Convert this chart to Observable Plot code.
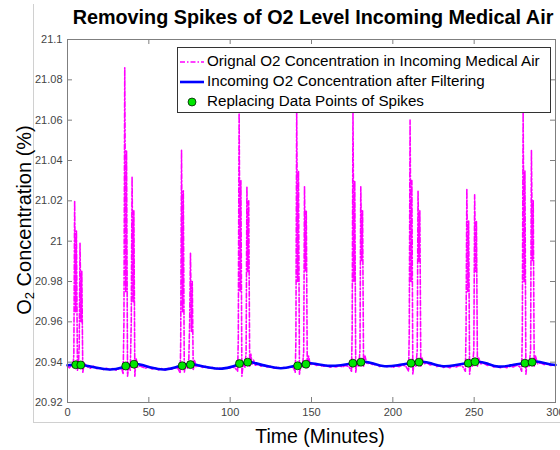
<!DOCTYPE html>
<html>
<head>
<meta charset="utf-8">
<script src="https://cdn.jsdelivr.net/npm/d3@7"></script>
<script src="https://cdn.jsdelivr.net/npm/@observablehq/plot@0.6"></script>
<style>
  html, body { margin: 0; padding: 0; background: #fff; }
  #wrap { position: relative; width: 560px; height: 450px; font-family: "Liberation Sans", Arial, sans-serif; overflow: hidden; }
  #figborder { position: absolute; left: 33px; top: 4px; width: 540px; height: 418px; border-left: 1px solid #d0d0d0; border-bottom: 1px solid #d0d0d0; }
  #title { position: absolute; left: 66px; width: 494px; top: 6px; text-align: center; font-weight: bold; font-size: 19.8px; color: #000; white-space: nowrap; }
  #xlabel { position: absolute; left: 75px; width: 490px; top: 425px; text-align: center; font-size: 19.5px; color: #000; }
  #ylabel { position: absolute; left: 24px; top: 220px; transform: translate(-50%, -50%) rotate(-90deg); font-size: 20px; color: #000; white-space: nowrap; }
  #ylabel sub { font-size: 13px; vertical-align: -3px; line-height: 0; }
  #chart { position: absolute; left: 0; top: 0; }
  #legend { position: absolute; left: 177px; top: 47px; width: 374px; height: 66px; border: 1px solid #333; background: #fff; box-sizing: border-box; }
  .lg { position: absolute; left: 0; height: 20px; width: 100%; font-size: 15.2px; color: #000; white-space: nowrap; }
  .lg svg { position: absolute; left: 2px; top: 0; }
  .lg span { position: absolute; left: 29px; top: 1px; }
</style>
</head>
<body>
<div id="wrap">
  <div id="figborder"></div>
  <div id="chart"></div>
  <div id="title">Removing Spikes of O2 Level Incoming Medical Air</div>
  <div id="xlabel">Time (Minutes)</div>
  <div id="ylabel">O<sub>2</sub> Concentration (%)</div>
  <div id="legend"></div>
</div>
<script>
// ---- data ----
const xTicks = [0, 50, 100, 150, 200, 250, 300];
const xTickLabels = ["0", "50", "100", "150", "200", "250", "300"];
const yTicks = [20.92, 20.94, 20.96, 20.98, 21.0, 21.02, 21.04, 21.06, 21.08, 21.1];
const yTickLabels = ["20.92", "20.94", "20.96", "20.98", "21", "21.02", "21.04", "21.06", "21.08", "21.1"];

const legendLabels = [
  "Orignal O2 Concentration in Incoming Medical Air",
  "Incoming O2 Concentration after Filtering",
  "Replacing Data Points of Spikes"
];

// original O2 concentration (time in minutes, value in %)
const originalO2 = [
  [0,20.9380],[1.2,20.9372],[2.4,20.9385],
  [3.4,20.9378],[3.9,20.9440],[4.4,21.0200],[5.0,20.9650],[5.5,21.0050],[6.1,20.9360],[6.7,20.9385],[7.2,20.9480],[7.7,20.9990],[8.3,20.9600],[8.8,20.9850],[9.4,20.9350],[10.3,20.9395],
  [12,20.9378],[14,20.9370],[16,20.9380],[18,20.9368],[20,20.9372],[22,20.9363],[24,20.9370],[26,20.9362],[28,20.9368],[30,20.9360],[32,20.9370],[33.5,20.9365],
  [34.2,20.9340],[34.7,20.9600],[35.2,21.0860],[35.8,20.9750],[36.3,21.0450],[36.9,20.9330],[37.6,20.9380],[38.6,20.9360],[39.2,20.9600],[39.7,21.0320],[40.3,20.9700],[40.8,21.0150],[41.4,20.9330],[42.2,20.9420],[43,20.9375],
  [44.5,20.9382],[46,20.9376],[48,20.9370],[50,20.9378],[52,20.9366],[54,20.9372],[56,20.9362],[58,20.9368],[60,20.9360],[62,20.9370],[64,20.9365],[66,20.9372],[68,20.9368],
  [69.3,20.9345],[69.6,20.9500],[70.1,21.0450],[70.7,20.9650],[71.2,21.0250],[71.8,20.9350],[72.6,20.9390],[73.8,20.9370],[74.6,20.9420],[75.1,20.9600],[75.6,20.9940],[76.2,20.9550],[76.7,20.9800],[77.3,20.9360],[78.1,20.9410],[79,20.9378],
  [81,20.9384],[83,20.9374],[85,20.9380],[87,20.9368],[89,20.9374],[91,20.9365],[93,20.9372],[95,20.9366],[97,20.9374],[99,20.9368],[101,20.9376],[103,20.9372],
  [104.6,20.9355],[105.0,20.9520],[105.5,21.0660],[106.1,20.9750],[106.6,21.0300],[107.2,20.9330],[108.0,20.9395],[109.1,20.9375],[109.8,20.9450],[110.3,21.0270],[110.9,20.9850],[111.4,21.0200],[112.0,20.9380],[112.7,20.9440],[113.5,20.9390],[114.4,20.9410],[115.5,20.9385],
  [117,20.9390],[119,20.9380],[121,20.9386],[123,20.9374],[125,20.9380],[127,20.9370],[129,20.9376],[131,20.9368],[133,20.9374],[135,20.9370],[137,20.9378],[139,20.9372],
  [140.0,20.9350],[140.4,20.9500],[140.9,21.0660],[141.5,20.9800],[142.0,21.0350],[142.6,20.9340],[143.3,20.9390],[144.4,20.9375],[145.2,20.9450],[145.7,21.0270],[146.3,20.9850],[146.8,21.0150],[147.4,20.9370],[148.2,20.9430],[149.2,20.9388],
  [151,20.9392],[153,20.9384],[155,20.9388],[157,20.9378],[159,20.9384],[161,20.9374],[163,20.9380],[165,20.9376],[167,20.9382],[169,20.9376],[171,20.9384],[173,20.9378],
  [174.6,20.9355],[175.0,20.9550],[175.5,21.0650],[176.1,20.9800],[176.6,21.0300],[177.2,20.9350],[178.0,20.9395],[179.1,20.9380],[179.8,20.9460],[180.3,21.0270],[180.9,20.9900],[181.4,21.0150],[182.0,20.9380],[182.9,20.9430],[184,20.9392],
  [186,20.9396],[188,20.9386],[190,20.9390],[192,20.9378],[194,20.9384],[196,20.9376],[198,20.9382],[200,20.9374],[202,20.9382],[204,20.9378],[206,20.9386],[208,20.9380],
  [209.7,20.9355],[210.1,20.9550],[210.6,21.0600],[211.2,20.9800],[211.7,21.0300],[212.3,20.9340],[213.0,20.9395],[214.2,20.9380],[215.0,20.9460],[215.5,21.0250],[216.1,20.9900],[216.6,21.0150],[217.2,20.9380],[218.0,20.9420],[219,20.9392],
  [221,20.9396],[223,20.9386],[225,20.9390],[227,20.9378],[229,20.9384],[231,20.9374],[233,20.9380],[235,20.9372],[237,20.9380],[239,20.9376],[241,20.9384],[243,20.9378],
  [244.6,20.9355],[245.0,20.9550],[245.5,21.0260],[246.1,20.9750],[246.6,21.0100],[247.2,20.9340],[247.9,20.9395],[249.0,20.9380],[249.8,20.9460],[250.3,21.0230],[250.9,20.9850],[251.4,21.0100],[252.0,20.9380],[252.8,20.9420],[254,20.9392],
  [256,20.9394],[258,20.9384],[260,20.9388],[262,20.9376],[264,20.9380],[266,20.9372],[268,20.9378],[270,20.9372],[272,20.9380],[274,20.9376],[276,20.9384],[278,20.9378],
  [279.2,20.9355],[279.6,20.9550],[280.1,21.0640],[280.7,20.9800],[281.2,21.0350],[281.8,20.9340],[282.5,20.9395],[283.8,20.9380],[284.7,20.9460],[285.2,21.0450],[285.8,20.9900],[286.3,21.0200],[286.9,20.9380],[287.7,20.9430],[289,20.9392],
  [291,20.9396],[293,20.9388],[295,20.9390],[297,20.9384],[299,20.9386],[300,20.9380]
];

// filtered O2 concentration
const filteredO2 = [
  [0,20.9385],[5,20.9388],[10,20.9385],[18,20.9372],[26,20.9364],[33,20.9372],[40,20.9390],[46,20.9386],
  [52,20.9372],[59,20.9364],[66,20.9374],[74,20.9390],[80,20.9385],[88,20.9372],[95,20.9368],[102,20.9380],
  [110,20.9400],[116,20.9394],[124,20.9378],[131,20.9370],[138,20.9378],[146,20.9395],[152,20.9392],[160,20.9382],
  [168,20.9385],[175,20.9393],[182,20.9402],[188,20.9393],[195,20.9380],[203,20.9385],[210,20.9395],[218,20.9402],
  [224,20.9393],[231,20.9380],[238,20.9385],[245,20.9395],[252,20.9402],[258,20.9393],[265,20.9378],[273,20.9385],
  [280,20.9395],[288,20.9403],[295,20.9392],[300,20.9386]
];

// replacing data points of spikes
const replacedPoints = [
  [5.1,20.9387],[8.2,20.9386],[35.8,20.9381],[40.9,20.9390],[70.5,20.9382],[75.6,20.9388],
  [105.7,20.9393],[110.8,20.9400],[141.5,20.9382],[146.6,20.9390],[175.4,20.9395],[180.4,20.9400],
  [211.2,20.9395],[216.1,20.9400],[246.4,20.9395],[250.5,20.9402],[281.2,20.9395],[285.6,20.9400]
];

// ---- styles ----
const magenta = "#ff00ff", blue = "#0000ff", green = "#00e600";
const axisGray = "#7f7f7f";
const dash = "5,2,1.5,2";

const orig = originalO2.map(([t, v]) => ({t, v}));
const filt = filteredO2.map(([t, v]) => ({t, v}));
const pts = replacedPoints.map(([t, v]) => ({t, v}));

const plot = Plot.plot({
  width: 560,
  height: 450,
  marginLeft: 67,
  marginRight: 5,
  marginTop: 39,
  marginBottom: 48,
  style: {fontFamily: "'Liberation Sans', Arial, sans-serif", fontSize: "11px", background: "transparent", overflow: "visible"},
  x: {domain: [0, 300]},
  y: {domain: [20.92, 21.1]},
  marks: [
    Plot.line(orig, {x: "t", y: "v", stroke: magenta, strokeWidth: 1.6, strokeDasharray: dash}),
    Plot.line(filt, {x: "t", y: "v", stroke: blue, strokeWidth: 2.6, curve: "natural"}),
    Plot.dot(pts, {x: "t", y: "v", r: 4, fill: green, stroke: "#000", strokeWidth: 0.7}),
    // inward ticks on all four sides
    Plot.tickX(xTicks, {x: d => d, insetTop: 358, stroke: axisGray}),
    Plot.tickX(xTicks, {x: d => d, insetBottom: 358, stroke: axisGray}),
    Plot.tickY(yTicks, {y: d => d, insetRight: 483, stroke: axisGray}),
    Plot.tickY(yTicks, {y: d => d, insetLeft: 483, stroke: axisGray}),
    Plot.frame({stroke: axisGray, strokeWidth: 1}),
    Plot.axisX(xTicks, {tickSize: 0, tickPadding: 6, label: null, fill: "#444", tickFormat: (d, i) => xTickLabels[i]}),
    Plot.axisY(yTicks, {tickSize: 0, tickPadding: 5, label: null, fill: "#444", tickFormat: (d, i) => yTickLabels[i]})
  ]
});
document.getElementById("chart").appendChild(plot);

// ---- legend (inside the axes, top right) ----
const legend = document.getElementById("legend");
const tops = [3, 23, 43];
legendLabels.forEach((label, i) => {
  const row = document.createElement("div");
  row.className = "lg";
  row.style.top = tops[i] + "px";
  let sample;
  if (i === 0) sample = `<line x1="0" x2="24" y1="11" y2="11" stroke="${magenta}" stroke-width="1.6" stroke-dasharray="${dash}"/>`;
  else if (i === 1) sample = `<line x1="0" x2="24" y1="11" y2="11" stroke="${blue}" stroke-width="2.6"/>`;
  else sample = `<circle cx="12" cy="11" r="4" fill="${green}" stroke="#000" stroke-width="0.7"/>`;
  row.innerHTML = `<svg width="26" height="20">${sample}</svg><span>${label}</span>`;
  legend.appendChild(row);
});
</script>
</body>
</html>
